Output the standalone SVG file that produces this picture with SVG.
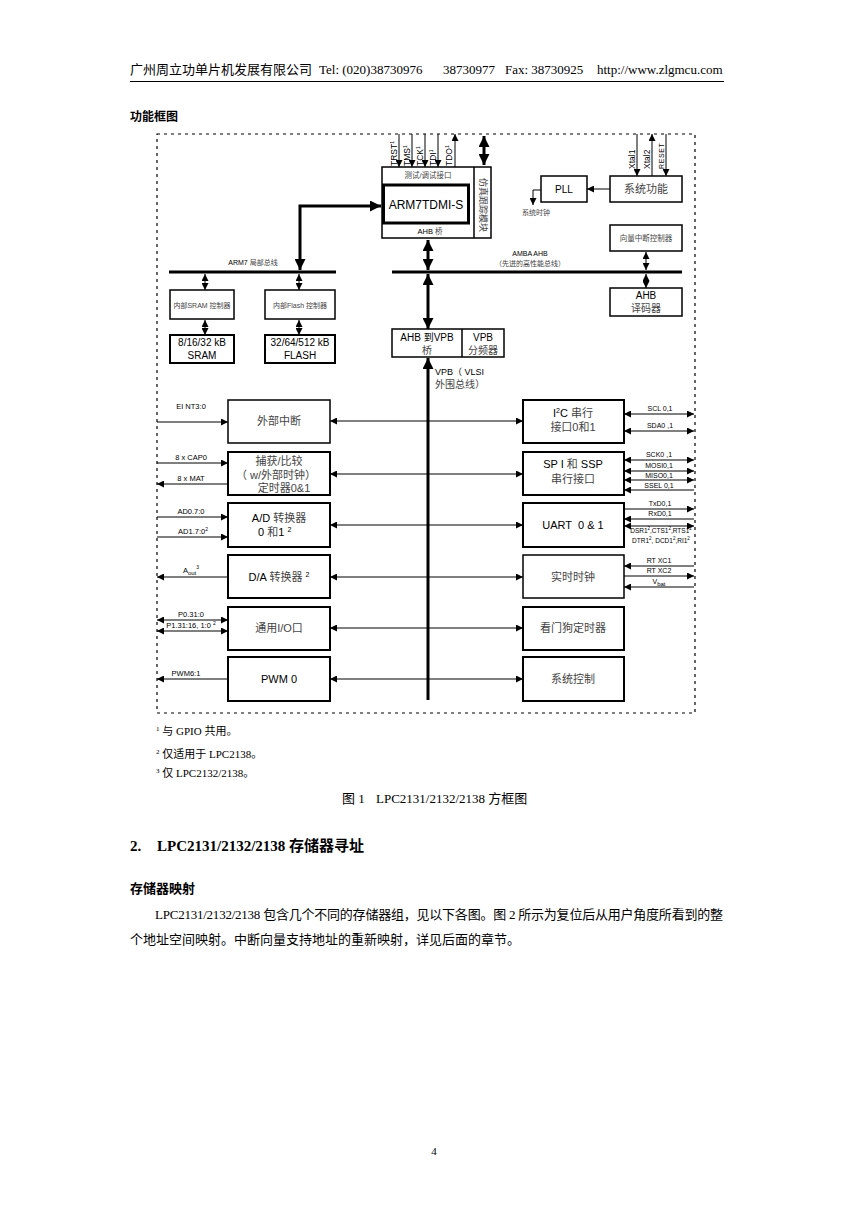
<svg xmlns="http://www.w3.org/2000/svg" width="868" height="1228" viewBox="0 0 868 1228">
<style>
.s{font-family:"Liberation Sans","Noto Sans CJK SC",sans-serif;fill:#000}
.r{font-family:"Liberation Serif","Noto Sans CJK SC",serif;fill:#000}
.c{text-anchor:middle}
.bx{fill:none;stroke:#000;stroke-width:1.5}
.bx2{fill:none;stroke:#000;stroke-width:2}
.t{fill:none;stroke:#000;stroke-width:1}
.T{fill:none;stroke:#000;stroke-width:3}
.cn{fill:#444}
.f11{font-size:11px}
.f7{font-size:7.5px}
</style>
<defs>
<marker id="a" viewBox="0 0 10 10" refX="10" refY="5" markerWidth="7" markerHeight="7" markerUnits="userSpaceOnUse" orient="auto-start-reverse"><path d="M0,0L10,5L0,10z"/></marker>
<marker id="A" viewBox="0 0 10 10" refX="10" refY="5" markerWidth="11" markerHeight="11" markerUnits="userSpaceOnUse" orient="auto-start-reverse"><path d="M0,0L10,5L0,10z"/></marker>
</defs>
<rect width="868" height="1228" fill="#fff"/>

<g id="page">
<text class="r" x="130" y="74" font-size="13">广州周立功单片机发展有限公司</text>
<text class="r" x="319" y="74" font-size="13">Tel: (020)38730976</text>
<text class="r" x="443" y="74" font-size="13">38730977</text>
<text class="r" x="505" y="74" font-size="13">Fax: 38730925</text>
<text class="r" x="597" y="74" font-size="13">http://www.zlgmcu.com</text>
<line x1="130" y1="81.5" x2="724" y2="81.5" stroke="#000" stroke-width="1"/>
<text class="s" x="130" y="121" font-size="12" font-weight="bold">功能框图</text>
<rect x="157" y="134" width="538" height="579" fill="none" stroke="#000" stroke-width="1.2" stroke-dasharray="3,4"/>
</g>

<g id="connectors">
<path class="t" d="M399,134V167" marker-end="url(#a)"/>
<path class="t" d="M412,134V167" marker-end="url(#a)"/>
<path class="t" d="M425,134V167" marker-end="url(#a)"/>
<path class="t" d="M438,134V167" marker-end="url(#a)"/>
<path class="t" d="M455,167V134" marker-end="url(#a)"/>
<path class="T" d="M484,136V165" marker-start="url(#A)" marker-end="url(#A)"/>
<path class="T" d="M300,270V206H381" marker-start="url(#A)" marker-end="url(#A)"/>
<line class="T" x1="169" y1="272" x2="336" y2="272"/>
<line class="T" x1="392" y1="272" x2="682" y2="272"/>
<path class="T" d="M428,240V270" marker-start="url(#A)" marker-end="url(#A)"/>
<path class="T" d="M428,274V329" marker-start="url(#A)" marker-end="url(#A)"/>
<path class="T" d="M428,700V358" marker-end="url(#A)"/>
<path class="t" d="M205,274V290" marker-start="url(#a)" marker-end="url(#a)"/>
<path class="t" d="M299,274V290" marker-start="url(#a)" marker-end="url(#a)"/>
<path class="t" d="M205,320V335" marker-start="url(#a)" marker-end="url(#a)"/>
<path class="t" d="M299,320V335" marker-start="url(#a)" marker-end="url(#a)"/>
<path class="t" d="M637,134V176" marker-end="url(#a)"/>
<path class="t" d="M652,176V134" marker-end="url(#a)"/>
<path class="t" d="M666,134V176" marker-end="url(#a)"/>
<path class="t" d="M610,189H587" marker-end="url(#a)"/>
<path class="t" d="M541,190H533V205" marker-end="url(#a)"/>
<path class="t" d="M646,252V270" marker-start="url(#a)" marker-end="url(#a)"/>
<path class="t" d="M646,274V288" marker-start="url(#a)" marker-end="url(#a)"/>
<path class="t" d="M428,421H330" marker-end="url(#a)"/>
<path class="t" d="M428,474H330" marker-end="url(#a)"/>
<path class="t" d="M428,525H330" marker-end="url(#a)"/>
<path class="t" d="M428,577H330" marker-end="url(#a)"/>
<path class="t" d="M428,628H330" marker-end="url(#a)"/>
<path class="t" d="M428,679H330" marker-end="url(#a)"/>
<path class="t" d="M428,421H523" marker-end="url(#a)"/>
<path class="t" d="M428,474H523" marker-end="url(#a)"/>
<path class="t" d="M428,525H523" marker-end="url(#a)"/>
<path class="t" d="M428,577H523" marker-end="url(#a)"/>
<path class="t" d="M428,628H523" marker-end="url(#a)"/>
<path class="t" d="M428,679H523" marker-end="url(#a)"/>
<path class="t" d="M157,422H228" marker-end="url(#a)"/>
<path class="t" d="M157,463H228" marker-end="url(#a)"/>
<path class="t" d="M228,484H157" marker-end="url(#a)"/>
<path class="t" d="M157,517H228" marker-end="url(#a)"/>
<path class="t" d="M157,537H228" marker-end="url(#a)"/>
<path class="t" d="M228,577H157" marker-end="url(#a)"/>
<path class="t" d="M157,620H228" marker-start="url(#a)" marker-end="url(#a)"/>
<path class="t" d="M157,631H228" marker-start="url(#a)" marker-end="url(#a)"/>
<path class="t" d="M228,679H157" marker-end="url(#a)"/>
<path class="t" d="M624,414H694" marker-start="url(#a)" marker-end="url(#a)"/>
<path class="t" d="M624,431H694" marker-start="url(#a)" marker-end="url(#a)"/>
<path class="t" d="M624,460H694" marker-start="url(#a)" marker-end="url(#a)"/>
<path class="t" d="M624,471H694" marker-start="url(#a)" marker-end="url(#a)"/>
<path class="t" d="M624,480H694" marker-start="url(#a)" marker-end="url(#a)"/>
<path class="t" d="M694,490H624" marker-end="url(#a)"/>
<path class="t" d="M624,509H694" marker-end="url(#a)"/>
<path class="t" d="M694,519H624" marker-end="url(#a)"/>
<path class="t" d="M624,526H694" marker-start="url(#a)" marker-end="url(#a)"/>
<path class="t" d="M694,566H624" marker-end="url(#a)"/>
<path class="t" d="M624,576H694" marker-end="url(#a)"/>
<path class="t" d="M694,587H624" marker-end="url(#a)"/>
</g>

<g id="jtag-labels" class="s" font-size="8.5">
<text transform="translate(397,166) rotate(-90)">TRST<tspan dy="-3" font-size="5">1</tspan></text>
<text transform="translate(410,166) rotate(-90)">TMS<tspan dy="-3" font-size="5">1</tspan></text>
<text transform="translate(423,166) rotate(-90)">TCK<tspan dy="-3" font-size="5">1</tspan></text>
<text transform="translate(436,166) rotate(-90)">TDI<tspan dy="-3" font-size="5">1</tspan></text>
<text transform="translate(452,166) rotate(-90)">TDO<tspan dy="-3" font-size="5">1</tspan></text>
</g>

<g id="arm7">
<rect class="bx" x="382" y="167" width="109" height="71"/>
<line class="bx" x1="474" y1="167" x2="474" y2="238"/>
<rect x="383.5" y="185" width="85" height="38" fill="none" stroke="#000" stroke-width="3"/>
<text class="s c cn f7" x="428" y="178">测试/调试接口</text>
<text class="s c" x="426" y="209" font-size="12">ARM7TDMI-S</text>
<text class="s c f7" x="430" y="234">AHB <tspan class="cn">桥</tspan></text>
<text class="s c cn" transform="translate(480,205) rotate(90)" font-size="9">仿真跟踪模块</text>
</g>

<g id="buses-labels">
<text class="s c" x="253" y="265" font-size="7">ARM7 <tspan class="cn">局部总线</tspan></text>
<text class="s c" x="530" y="256" font-size="7">AMBA AHB</text>
<text class="s c cn" x="530" y="266" font-size="7">（先进的高性能总线）</text>
<text class="s" x="435" y="375" font-size="9">VPB（ VLSI</text>
<text class="s cn" x="435" y="388" font-size="10">外围总线）</text>
</g>

<g id="sram-ctrl"><rect class="bx" x="170" y="290" width="64" height="29"/><text class="s c cn" x="202" y="308" font-size="7">内部SRAM 控制器</text></g>
<g id="flash-ctrl"><rect class="bx" x="265" y="290" width="70" height="29"/><text class="s c cn" x="300" y="308" font-size="7">内部Flash 控制器</text></g>
<g id="sram"><rect class="bx2" x="170" y="335" width="64" height="28"/><text class="s c" x="202" y="346" font-size="10">8/16/32 kB</text><text class="s c" x="202" y="359" font-size="10">SRAM</text></g>
<g id="flash"><rect class="bx2" x="265" y="335" width="70" height="28"/><text class="s c" x="300" y="346" font-size="10">32/64/512 kB</text><text class="s c" x="300" y="359" font-size="10">FLASH</text></g>

<g id="bridge">
<rect class="bx" x="392" y="329" width="112" height="28"/>
<line class="bx" x1="462" y1="329" x2="462" y2="357"/>
<text class="s c" x="427" y="341" font-size="10">AHB 到VPB</text>
<text class="s c cn" x="427" y="354" font-size="10">桥</text>
<text class="s c" x="483" y="341" font-size="10">VPB</text>
<text class="s c cn" x="483" y="354" font-size="10">分频器</text>
</g>

<g id="pll"><rect class="bx" x="541" y="176" width="46" height="26"/><text class="s c" x="564" y="193" font-size="10">PLL</text></g>
<text class="s c cn" x="536" y="215" font-size="7">系统时钟</text>
<g id="sysfunc"><rect class="bx" x="610" y="176" width="72" height="26"/><text class="s c cn" x="646" y="193" font-size="11">系统功能</text></g>
<g id="sys-pins" class="s" font-size="8.5">
<text transform="translate(635,169) rotate(-90)">Xtal1</text>
<text transform="translate(650,169) rotate(-90)">Xtal2</text>
<text transform="translate(664,169) rotate(-90)" font-size="7" letter-spacing="0.6">RESET</text>
</g>
<g id="vic"><rect class="bx" x="610" y="225" width="72" height="26"/><text class="s c cn" x="646" y="241" font-size="7.5">向量中断控制器</text></g>
<g id="ahb-dec"><rect class="bx" x="610" y="288" width="72" height="28"/><text class="s c" x="646" y="299" font-size="10">AHB</text><text class="s c cn" x="646" y="312" font-size="10">译码器</text></g>

<g id="eint"><rect class="bx" x="228" y="400" width="102" height="43"/><text class="s c cn f11" x="279" y="425">外部中断</text></g>
<g id="timer"><rect class="bx2" x="228" y="452" width="102" height="43"/>
<text class="s c cn f11" x="279" y="465">捕获/比较</text>
<text class="s c cn f11" x="276" y="479">（ w/外部时钟）</text>
<text class="s c cn f11" x="284" y="492">定时器0&amp;1</text></g>
<g id="adc"><rect class="bx2" x="228" y="503" width="102" height="44"/>
<text class="s c f11" x="279" y="522">A/D <tspan class="cn">转换器</tspan></text>
<text class="s f11" x="258" y="536">0 <tspan class="cn">和</tspan>1 <tspan dy="-4" font-size="7">2</tspan></text></g>
<g id="dac"><rect class="bx2" x="228" y="555" width="102" height="43"/><text class="s c f11" x="279" y="581">D/A <tspan class="cn">转换器</tspan> <tspan dy="-4" font-size="7">2</tspan></text></g>
<g id="gpio"><rect class="bx2" x="228" y="607" width="102" height="43"/><text class="s c cn f11" x="279" y="632">通用I/O口</text></g>
<g id="pwm"><rect class="bx2" x="228" y="657" width="102" height="44"/><text class="s c f11" x="279" y="683">PWM 0</text></g>

<g id="i2c"><rect class="bx2" x="523" y="400" width="101" height="43"/>
<text class="s c f11" x="573" y="417">I<tspan dy="-4" font-size="7">2</tspan><tspan dy="4">C </tspan><tspan class="cn">串行</tspan></text>
<text class="s c cn f11" x="573" y="431">接口0和1</text></g>
<g id="spi"><rect class="bx2" x="523" y="452" width="101" height="43"/>
<text class="s c f11" x="573" y="468">SP I <tspan class="cn">和</tspan> SSP</text>
<text class="s c cn f11" x="573" y="483">串行接口</text></g>
<g id="uart"><rect class="bx2" x="523" y="503" width="101" height="44"/><text class="s c f11" x="573" y="529" xml:space="preserve">UART  0 &amp; 1</text></g>
<g id="rtc"><rect class="bx" x="523" y="555" width="101" height="43"/><text class="s c cn f11" x="573" y="581">实时时钟</text></g>
<g id="wdt"><rect class="bx2" x="523" y="607" width="101" height="43"/><text class="s c cn f11" x="573" y="632">看门狗定时器</text></g>
<g id="sysctl"><rect class="bx2" x="523" y="657" width="101" height="44"/><text class="s c cn f11" x="573" y="683">系统控制</text></g>

<g id="left-labels" class="s c" font-size="7.5">
<text x="191" y="409">EI NT3:0</text>
<text x="191" y="460">8 x CAP0</text>
<text x="191" y="481">8 x MAT</text>
<text x="191" y="514">AD0.7:0</text>
<text x="193" y="534">AD1.7:0<tspan dy="-3" font-size="5">2</tspan></text>
<text x="191" y="573">A<tspan dy="2" font-size="6">out</tspan><tspan dy="-6" font-size="5">3</tspan></text>
<text x="191" y="617">P0.31:0</text>
<text x="191" y="628">P1.31:16, 1:0 <tspan dy="-3" font-size="5">2</tspan></text>
<text x="186" y="676">PWM6:1</text>
</g>

<g id="right-labels" class="s c" font-size="7">
<text x="660" y="411">SCL 0,1</text>
<text x="660" y="428">SDA0 ,1</text>
<text x="659" y="457">SCK0 ,1</text>
<text x="659" y="468">MOSI0,1</text>
<text x="659" y="478">MISO0,1</text>
<text x="659" y="488">SSEL 0,1</text>
<text x="660" y="506">TxD0,1</text>
<text x="660" y="516">RxD0,1</text>
<text x="661" y="533" font-size="6.5">DSR1<tspan dy="-3" font-size="4.5">2</tspan><tspan dy="3">,CTS1</tspan><tspan dy="-3" font-size="4.5">2</tspan><tspan dy="3">,RTS1</tspan><tspan dy="-3" font-size="4.5">2</tspan></text>
<text x="661" y="543" font-size="6.5">DTR1<tspan dy="-3" font-size="4.5">2</tspan><tspan dy="3">, DCD1</tspan><tspan dy="-3" font-size="4.5">2</tspan><tspan dy="3">,RI1</tspan><tspan dy="-3" font-size="4.5">2</tspan></text>
<text x="659" y="563">RT XC1</text>
<text x="659" y="573">RT XC2</text>
<text x="659" y="584">V<tspan dy="2" font-size="6">bat</tspan></text>
</g>

<g id="text-body">
<text class="r" x="156" y="735" font-size="11"><tspan font-size="7" dy="-4">1</tspan><tspan dy="4"> 与 GPIO 共用。</tspan></text>
<text class="r" x="156" y="758" font-size="11"><tspan font-size="7" dy="-4">2</tspan><tspan dy="4"> 仅适用于 LPC2138。</tspan></text>
<text class="r" x="156" y="777" font-size="11"><tspan font-size="7" dy="-4">3</tspan><tspan dy="4"> 仅 LPC2132/2138。</tspan></text>
<text class="r" x="342" y="803" font-size="13">图 1</text>
<text class="r" x="376" y="803" font-size="13">LPC2131/2132/2138 方框图</text>
<text class="r" x="130" y="851" font-size="15" font-weight="bold">2.</text>
<text class="r" x="157" y="851" font-size="15" font-weight="bold">LPC2131/2132/2138 存储器寻址</text>
<text class="s" x="130" y="893" font-size="13" font-weight="bold">存储器映射</text>
<text class="r" x="155" y="919" font-size="13" textLength="568" lengthAdjust="spacing">LPC2131/2132/2138 包含几个不同的存储器组，见以下各图。图 2 所示为复位后从用户角度所看到的整</text>
<text class="r" x="130" y="944" font-size="13">个地址空间映射。中断向量支持地址的重新映射，详见后面的章节。</text>
<text class="r c" x="434" y="1155" font-size="11">4</text>
</g>
</svg>
